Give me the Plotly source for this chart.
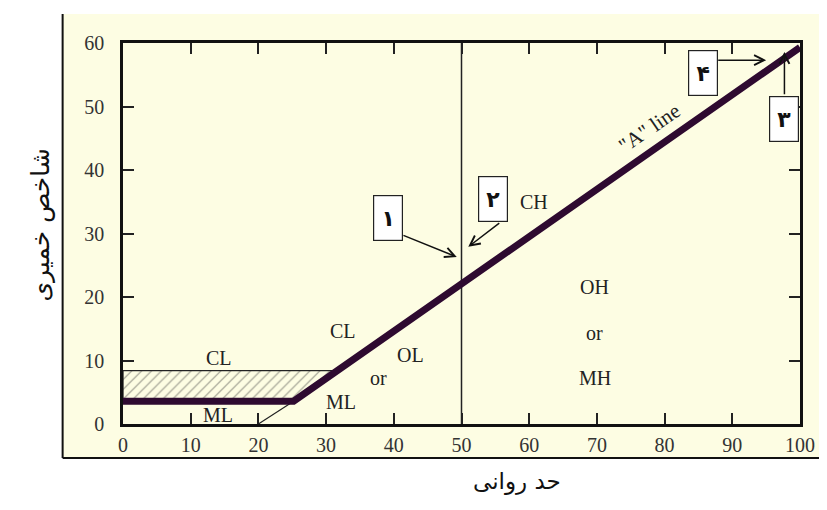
import plotly.graph_objects as go

# ---- data ----
x_ticks = [0, 10, 20, 30, 40, 50, 60, 70, 80, 90, 100]
y_ticks = [0, 10, 20, 30, 40, 50, 60]

a_line_ll = [0, 25.2, 100]
a_line_pi = [3.6, 3.6, 59.3]

hatch_ll = [0, 25.2, 31.6, 0, 0]
hatch_pi = [3.6, 3.6, 8.4, 8.4, 3.6]

ext_ll = [20, 25.2]
ext_pi = [0, 3.6]

ll50_ll = [50, 50]
ll50_pi = [0, 60]

zone_labels = ["CL", "ML", "CL", "ML", "or", "OL", "OH", "or", "MH", "CH"]
zone_ll = [14.2, 14.1, 32.5, 32.2, 37.8, 42.4, 69.7, 69.7, 69.7, 60.7]
zone_pi = [10.4, 1.4, 14.6, 3.5, 7.2, 10.9, 21.6, 14.3, 7.2, 35.0]

box_labels = ["۱", "۲", "۳", "۴"]
box_ll = [39.2, 54.7, 97.7, 85.6]
box_pi = [32.4, 35.4, 48.0, 55.3]
arrow_tail_ll = [41.2, 55.8, 97.7, 87.7]
arrow_tail_pi = [29.8, 31.8, 51.7, 57.3]
arrow_head_ll = [49.3, 51.0, 97.7, 95.0]
arrow_head_pi = [26.3, 27.9, 58.6, 57.3]

aline_label = '"A" line'
aline_label_ll = 77.8
aline_label_pi = 46.6

x_title = "حد روانی"
y_title = "شاخص خمیری"

# ---- style ----
YEL = "#fdfde3"
LINEC = "#2e0a30"
SERIF = "Liberation Serif"

OFF = 8  # page body margin
W, H = 827 - OFF, 510 - OFF
# target window pixels of the plot area
PX_L, PX_R, PX_T, PX_B = 123, 807, 43, 424
ML = PX_L - OFF
MT = PX_T - OFF
MR = W - (PX_R - OFF)
MB = H - (PX_B - OFF)
pw = PX_R - PX_L
ph = PX_B - PX_T


def px2paperx(p):
    return (p - PX_L) / pw


def px2papery(p):
    return (PX_B - p) / ph


fig = go.Figure()

fig.add_trace(go.Scatter(
    x=hatch_ll, y=hatch_pi, mode="lines", fill="toself",
    fillcolor=YEL,
    fillpattern=dict(shape="/", fgcolor="#333333", bgcolor=YEL, size=7, solidity=0.16),
    line=dict(color="#222222", width=1.3), hoverinfo="skip", showlegend=False))

fig.add_trace(go.Scatter(x=ext_ll, y=ext_pi, mode="lines",
                         line=dict(color="#222222", width=1.2), showlegend=False))

fig.add_trace(go.Scatter(x=ll50_ll, y=ll50_pi, mode="lines",
                         line=dict(color="#222222", width=1.5), showlegend=False))

fig.add_trace(go.Scatter(x=a_line_ll, y=a_line_pi, mode="lines",
                         line=dict(color=LINEC, width=7), showlegend=False))

annotations = []
for t, x, y in zip(zone_labels, zone_ll, zone_pi):
    annotations.append(dict(x=x, y=y, xref="x", yref="y", text=t, showarrow=False,
                            font=dict(family=SERIF, size=20, color="#222222")))

for t, x, y in zip(box_labels, box_ll, box_pi):
    annotations.append(dict(x=x, y=y, xref="x", yref="y", text="<b>" + t + "</b>",
                            showarrow=False, width=28, height=44,
                            bgcolor="white", bordercolor="#222222", borderwidth=1.2,
                            borderpad=0,
                            font=dict(family="DejaVu Sans", size=22, color="#111111")))

for tx, ty, hx, hy in zip(arrow_tail_ll, arrow_tail_pi, arrow_head_ll, arrow_head_pi):
    annotations.append(dict(x=hx, y=hy, ax=tx, ay=ty, xref="x", yref="y",
                            axref="x", ayref="y", text="", showarrow=True,
                            arrowhead=5, arrowsize=1.3, arrowwidth=1.5,
                            arrowcolor="#111111", standoff=0, startstandoff=0))

annotations.append(dict(x=aline_label_ll, y=aline_label_pi, xref="x", yref="y",
                        text=aline_label, showarrow=False, textangle=-34.6,
                        font=dict(family=SERIF, size=21, color="#222222")))

annotations.append(dict(x=px2paperx(521), y=px2papery(497), xref="paper", yref="paper",
                        text=x_title, showarrow=False,
                        font=dict(family="DejaVu Sans", size=23, color="#111111")))
annotations.append(dict(x=px2paperx(22), y=px2papery(225), xref="paper", yref="paper",
                        text=y_title, showarrow=False, textangle=-90,
                        font=dict(family="DejaVu Sans", size=25, color="#111111")))

shapes = [
    dict(type="rect", xref="paper", yref="paper", layer="below",
         x0=px2paperx(62), x1=px2paperx(830), y0=px2papery(458), y1=px2papery(14),
         fillcolor=YEL, line=dict(width=0)),
    dict(type="line", xref="paper", yref="paper",
         x0=px2paperx(62), x1=px2paperx(62), y0=px2papery(458), y1=px2papery(14),
         line=dict(color="#111111", width=2)),
    dict(type="line", xref="paper", yref="paper",
         x0=px2paperx(62), x1=px2paperx(830), y0=px2papery(458), y1=px2papery(458),
         line=dict(color="#111111", width=2)),
]

axis_common = dict(showgrid=False, zeroline=False, showline=True, linecolor="#111111",
                   linewidth=2.5, mirror="ticks", ticks="inside", ticklen=11,
                   tickwidth=1.5, tickcolor="#222222",
                   tickfont=dict(family=SERIF, size=20, color="#333333"))

fig.update_layout(
    width=W, height=H,
    margin=dict(l=ML, r=MR, t=MT, b=MB),
    paper_bgcolor="white", plot_bgcolor=YEL,
    showlegend=False,
    xaxis=dict(range=[0, 100], tickvals=x_ticks, ticklabelstandoff=1, **axis_common),
    yaxis=dict(range=[0, 60], tickvals=y_ticks, ticklabelstandoff=12, **axis_common),
    annotations=annotations,
    shapes=shapes,
)

fig.write_html("out.html")
